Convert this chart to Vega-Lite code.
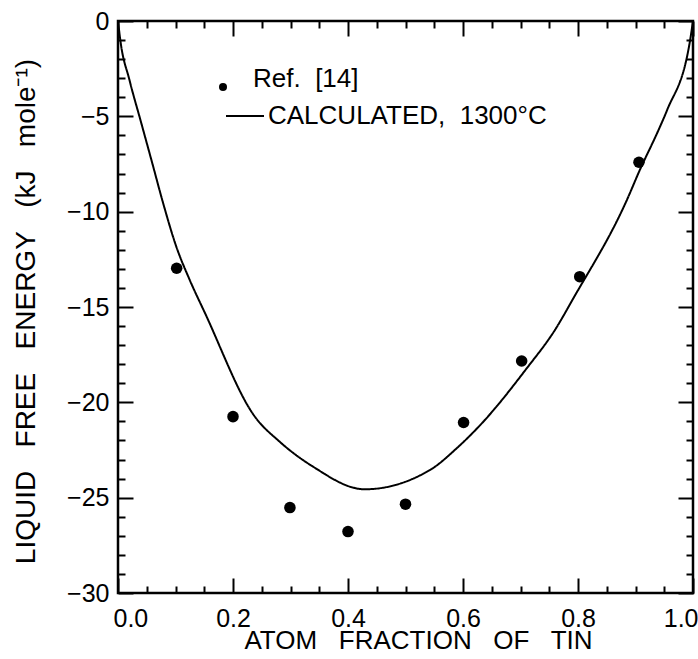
{
  "$schema": "https://vega.github.io/schema/vega-lite/v6.json",
  "width": 575,
  "height": 572,
  "autosize": {"type": "none"},
  "padding": {"left": 118, "top": 21, "right": 5, "bottom": 66},
  "background": "white",
  "config": {
    "view": {"stroke": "black", "strokeWidth": 2.5},
    "font": "Liberation Sans",
    "axis": {"grid": false, "domain": false, "labelColor": "black", "titleColor": "black", "labelFont": "Liberation Sans", "titleFont": "Liberation Sans", "titleFontWeight": "normal", "labelFontSize": 25, "titleFontSize": 27},
    "legend": {"padding": 0, "labelFont": "Liberation Sans", "labelColor": "black", "labelFontSize": 26, "labelLimit": 500}
  },
  "datasets": {
    "curve": [
      {"x": 0, "y": 0, "series": "CALCULATED,\u00a0 1300°C"},
      {"x": 0.004, "y": -1.0, "series": "CALCULATED,\u00a0 1300°C"},
      {"x": 0.02, "y": -3.1, "series": "CALCULATED,\u00a0 1300°C"},
      {"x": 0.04, "y": -5.3, "series": "CALCULATED,\u00a0 1300°C"},
      {"x": 0.06, "y": -7.5, "series": "CALCULATED,\u00a0 1300°C"},
      {"x": 0.078, "y": -9.5, "series": "CALCULATED,\u00a0 1300°C"},
      {"x": 0.101, "y": -11.8, "series": "CALCULATED,\u00a0 1300°C"},
      {"x": 0.125, "y": -13.6, "series": "CALCULATED,\u00a0 1300°C"},
      {"x": 0.151, "y": -15.3, "series": "CALCULATED,\u00a0 1300°C"},
      {"x": 0.238, "y": -20.75, "series": "CALCULATED,\u00a0 1300°C"},
      {"x": 0.281, "y": -22.06, "series": "CALCULATED,\u00a0 1300°C"},
      {"x": 0.339, "y": -23.37, "series": "CALCULATED,\u00a0 1300°C"},
      {"x": 0.429, "y": -24.56, "series": "CALCULATED,\u00a0 1300°C"},
      {"x": 0.543, "y": -23.54, "series": "CALCULATED,\u00a0 1300°C"},
      {"x": 0.589, "y": -22.41, "series": "CALCULATED,\u00a0 1300°C"},
      {"x": 0.63, "y": -21.19, "series": "CALCULATED,\u00a0 1300°C"},
      {"x": 0.711, "y": -18.21, "series": "CALCULATED,\u00a0 1300°C"},
      {"x": 0.76, "y": -16.2, "series": "CALCULATED,\u00a0 1300°C"},
      {"x": 0.792, "y": -14.54, "series": "CALCULATED,\u00a0 1300°C"},
      {"x": 0.885, "y": -9.39, "series": "CALCULATED,\u00a0 1300°C"},
      {"x": 0.907, "y": -7.85, "series": "CALCULATED,\u00a0 1300°C"},
      {"x": 0.94, "y": -5.72, "series": "CALCULATED,\u00a0 1300°C"},
      {"x": 0.955, "y": -4.67, "series": "CALCULATED,\u00a0 1300°C"},
      {"x": 0.995, "y": -1.0, "series": "CALCULATED,\u00a0 1300°C"},
      {"x": 1.0, "y": 0, "series": "CALCULATED,\u00a0 1300°C"}
    ],
    "points": [
      {"x": 0.102, "y": -12.97, "series": "Ref.\u00a0 [14]"},
      {"x": 0.2, "y": -20.75, "series": "Ref.\u00a0 [14]"},
      {"x": 0.299, "y": -25.52, "series": "Ref.\u00a0 [14]"},
      {"x": 0.4, "y": -26.78, "series": "Ref.\u00a0 [14]"},
      {"x": 0.5, "y": -25.34, "series": "Ref.\u00a0 [14]"},
      {"x": 0.601, "y": -21.06, "series": "Ref.\u00a0 [14]"},
      {"x": 0.702, "y": -17.83, "series": "Ref.\u00a0 [14]"},
      {"x": 0.803, "y": -13.41, "series": "Ref.\u00a0 [14]"},
      {"x": 0.906, "y": -7.41, "series": "Ref.\u00a0 [14]"}
    ]
  },
  "resolve": {"axis": {"x": "independent", "y": "independent"}},
  "layer": [
    {
      "data": {"name": "curve"},
      "mark": {"type": "line", "color": "black", "strokeWidth": 2, "interpolate": "monotone"},
      "encoding": {
        "x": {"field": "x", "type": "quantitative", "scale": {"domain": [0, 1], "nice": false, "zero": false},
          "axis": {"orient": "bottom", "values": [0, 0.2, 0.4, 0.6, 0.8, 1.0], "format": ".1f", "ticks": false, "labelPadding": 13, "labelFlush": true, "labelFlushOffset": 5, "title": "ATOM\u00a0\u00a0 FRACTION\u00a0\u00a0 OF\u00a0\u00a0 TIN", "titleFontSize": 26, "titleX": 300, "titleY": 55, "titleBaseline": "alphabetic", "titleAnchor": "middle"}},
        "y": {"field": "y", "type": "quantitative", "scale": {"domain": [-30, 0], "nice": false, "zero": false},
          "axis": {"orient": "left", "values": [-30, -25, -20, -15, -10, -5, 0], "format": "d", "ticks": false, "labelPadding": 9, "title": "LIQUID\u00a0\u00a0 FREE\u00a0\u00a0 ENERGY\u00a0\u00a0 (kJ\u00a0\u00a0 mole⁻¹)", "titleFontSize": 28, "titleX": -84, "titleY": 290, "titleAngle": -90, "titleBaseline": "alphabetic", "titleAnchor": "middle"}},
        "strokeDash": {"field": "series", "type": "nominal", "scale": {"range": [[1, 0]]},
          "legend": {"orient": "none", "legendX": 107, "legendY": 75, "title": null, "symbolType": "stroke", "symbolSize": 1444, "symbolStrokeWidth": 2, "symbolStrokeColor": "black", "labelOffset": 3, "labelFontSize": 26, "labelLimit": 500}}
      }
    },
    {
      "data": {"name": "points"},
      "mark": {"type": "point", "filled": true, "color": "black", "opacity": 1, "size": 133},
      "encoding": {
        "x": {"field": "x", "type": "quantitative",
          "axis": {"orient": "bottom", "offset": -15, "ticks": true, "tickSize": 15, "tickWidth": 2, "tickColor": "black", "values": [0, 0.2, 0.4, 0.6, 0.8, 1.0], "labels": false, "title": null}},
        "y": {"field": "y", "type": "quantitative",
          "axis": {"orient": "left", "offset": -15, "ticks": true, "tickSize": 15, "tickWidth": 2, "tickColor": "black", "values": [-30, -25, -20, -15, -10, -5, 0], "labels": false, "title": null}},
        "shape": {"field": "series", "type": "nominal", "scale": {"range": ["circle"]},
          "legend": {"orient": "none", "legendX": 92, "legendY": 53, "title": null, "symbolSize": 64, "labelOffset": 17, "labelFontSize": 26, "labelBaseline": "alphabetic",
            "encode": {"symbols": {"update": {"size": {"value": 64}, "fill": {"value": "black"}, "opacity": {"value": 1}}}}}}
      }
    },
    {
      "data": {"name": "points"},
      "mark": {"type": "point", "opacity": 0},
      "encoding": {
        "x": {"field": "x", "type": "quantitative",
          "axis": {"orient": "bottom", "offset": -7, "ticks": true, "tickSize": 7, "tickWidth": 2, "tickColor": "black", "values": [0.05, 0.1, 0.15, 0.25, 0.3, 0.35, 0.45, 0.5, 0.55, 0.65, 0.7, 0.75, 0.85, 0.9, 0.95], "labels": false, "title": null}},
        "y": {"field": "y", "type": "quantitative",
          "axis": {"orient": "left", "offset": -7, "ticks": true, "tickSize": 7, "tickWidth": 2, "tickColor": "black", "values": [-29, -28, -27, -26, -24, -23, -22, -21, -19, -18, -17, -16, -14, -13, -12, -11, -9, -8, -7, -6, -4, -3, -2, -1], "labels": false, "title": null}}
      }
    },
    {
      "data": {"name": "points"},
      "mark": {"type": "point", "opacity": 0},
      "encoding": {
        "x": {"field": "x", "type": "quantitative",
          "axis": {"orient": "top", "offset": -15, "ticks": true, "tickSize": 15, "tickWidth": 2, "tickColor": "black", "values": [0, 0.2, 0.4, 0.6, 0.8, 1.0], "labels": false, "title": null}},
        "y": {"field": "y", "type": "quantitative",
          "axis": {"orient": "right", "offset": -15, "ticks": true, "tickSize": 15, "tickWidth": 2, "tickColor": "black", "values": [-30, -25, -20, -15, -10, -5, 0], "labels": false, "title": null}}
      }
    },
    {
      "data": {"name": "points"},
      "mark": {"type": "point", "opacity": 0},
      "encoding": {
        "x": {"field": "x", "type": "quantitative",
          "axis": {"orient": "top", "offset": -7, "ticks": true, "tickSize": 7, "tickWidth": 2, "tickColor": "black", "values": [0.05, 0.1, 0.15, 0.25, 0.3, 0.35, 0.45, 0.5, 0.55, 0.65, 0.7, 0.75, 0.85, 0.9, 0.95], "labels": false, "title": null}},
        "y": {"field": "y", "type": "quantitative",
          "axis": {"orient": "right", "offset": -7, "ticks": true, "tickSize": 7, "tickWidth": 2, "tickColor": "black", "values": [-29, -28, -27, -26, -24, -23, -22, -21, -19, -18, -17, -16, -14, -13, -12, -11, -9, -8, -7, -6, -4, -3, -2, -1], "labels": false, "title": null}}
      }
    }
  ]
}
